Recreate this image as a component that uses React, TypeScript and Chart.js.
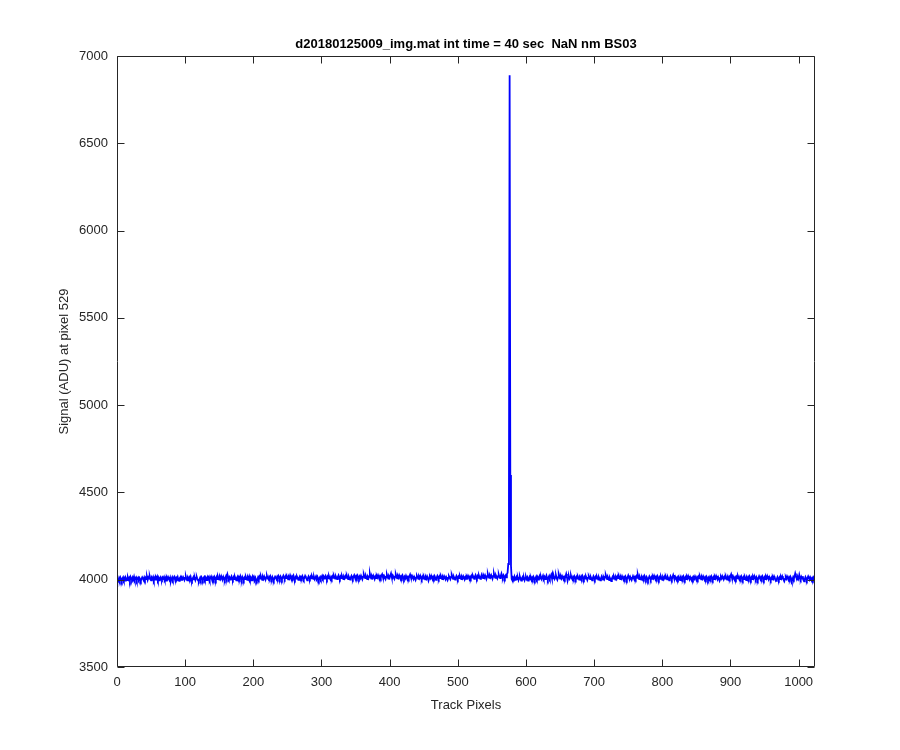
import React, { useEffect, useRef } from "react";
import { Chart, registerables } from "chart.js";

Chart.register(...registerables);

const TITLE = "d20180125009_img.mat int time = 40 sec  NaN nm BS03";
const X_LABEL = "Track Pixels";
const Y_LABEL = "Signal (ADU) at pixel 529";
const X_TICKS = [0, 100, 200, 300, 400, 500, 600, 700, 800, 900, 1000];
const Y_TICKS = [3500, 4000, 4500, 5000, 5500, 6000, 6500, 7000];
const X_MIN = 0;
const X_MAX = 1024;
const Y_MIN = 3500;
const Y_MAX = 7000;

// Signal per track pixel (pixels 1..1024)
const SIGNAL = [
  4002, 3994, 4009, 3997, 4012, 4003, 3992, 4006, 4014, 3999, 4008, 3995, 4011, 4004, 3998, 4013, 4001, 4010, 3996, 4015, 4005, 3999, 4012, 4002, 4017, 4000, 4009, 4014, 3997, 4008, 4013, 4001,
  4010, 4002, 3993, 4005, 4014, 4007, 3998, 4012, 4000, 4011, 4004, 4016, 3999, 4013, 4006, 4018, 4002, 3996, 4012, 4005, 4015, 3998, 4010, 4001, 4014, 4006, 4017, 4000, 4011, 3997, 4009, 4015,
  4004, 3999, 4013, 4007, 4016, 4001, 4009, 3995, 4012, 4003, 4015, 4006, 3998, 4011, 3991, 4005, 4014, 4000, 4010, 4017, 4003, 3996, 4012, 4006, 4016, 4000, 3994, 4008, 4014, 3999, 4011, 4004,
  4015, 4006, 3999, 4011, 4018, 4003, 3996, 4010, 4002, 4014, 4005, 4017, 4000, 3993, 4007, 4015, 4002, 4012, 3998, 4010, 4016, 4004, 3995, 3990, 4003, 4012, 4000, 4014, 4006, 3997, 4010, 4016,
  4002, 4012, 3998, 4008, 4017, 4004, 4014, 3999, 4010, 4018, 4005, 3996, 4012, 4002, 4016, 4007, 3998, 4014, 4003, 4019, 4008, 4000, 4015, 4005, 4020, 4009, 4001, 4016, 4006, 3998, 4013, 4022,
  4011, 4030, 4015, 4004, 4013, 4000, 4010, 4019, 4006, 3999, 4013, 4003, 4016, 4005, 3996, 4011, 4018, 4001, 4013, 4005, 4020, 4008, 3998, 4015, 4006, 3997, 4011, 4003, 4017, 4007, 3999, 4013,
  4004, 4018, 4003, 4013, 3997, 4009, 4019, 4005, 4015, 4001, 4011, 3996, 3991, 4002, 4014, 4004, 4017, 4007, 4021, 4010, 3999, 4015, 4005, 4018, 4008, 4001, 4013, 4022, 4009, 4003, 4016, 4007,
  4019, 4008, 4001, 4015, 4005, 3996, 4009, 4018, 4012, 4003, 4016, 4007, 4021, 4013, 4004, 4018, 4010, 4001, 4014, 4023, 4011, 4004, 4018, 4009, 4021, 4013, 4002, 4016, 4008, 4024, 4012, 4004,
  4018, 4010, 4022, 4008, 4000, 4014, 4006, 4019, 4011, 3999, 4009, 4017, 4004, 4015, 4008, 4021, 4012, 4002, 4011, 4022, 4014, 4006, 3997, 4009, 4019, 4010, 4004, 4017, 4008, 4021, 4012, 4005,
  4016, 4003, 4011, 4020, 4008, 4017, 4006, 3996, 4009, 4016, 4004, 4013, 4022, 4010, 4019, 4006, 4015, 4023, 4012, 4003, 4017, 4008, 4021, 4010, 4002, 4015, 4006, 4019, 4011, 4024, 4014, 4007,
  4020, 4011, 4003, 4016, 4025, 4013, 4005, 4018, 4009, 4022, 4012, 4003, 4016, 4008, 4020, 4011, 4024, 4013, 4004, 4018, 4009, 4000, 4013, 4022, 4013, 4005, 4018, 4026, 4014, 4007, 4020, 4011,
  4023, 4013, 4005, 4018, 4009, 4022, 4012, 4003, 4016, 4030, 4017, 4009, 4022, 4012, 4003, 4016, 4008, 4020, 4034, 4015, 4007, 4020, 4011, 4023, 4013, 4004, 4018, 4009, 4022, 4013, 4025, 4014,
  4006, 4020, 4011, 4023, 4031, 4016, 4008, 4021, 4013, 4004, 4017, 4028, 4014, 4006, 4019, 4011, 4024, 4036, 4017, 4010, 4022, 4014, 4005, 4018, 4029, 4015, 4008, 4021, 4012, 4025, 4014, 4006,
  4019, 4011, 4024, 4013, 4004, 4017, 4008, 4022, 4012, 4003, 4015, 4007, 4020, 4030, 4016, 4008, 4021, 4013, 4004, 4017, 4009, 3999, 4012, 4022, 4013, 4005, 4018, 4009, 4022, 4012, 4003, 4016,
  4007, 4020, 4011, 4002, 4015, 4006, 4019, 4010, 3995, 4008, 4018, 4009, 4022, 4012, 4003, 4016, 4007, 4020, 4011, 3999, 4012, 4022, 4013, 4005, 4018, 4009, 4022, 4013, 4003, 4016, 4008, 4020,
  4011, 4003, 4016, 4008, 3998, 4010, 4020, 4012, 4003, 4016, 4027, 4014, 4005, 4018, 4009, 4000, 4012, 4022, 4013, 4004, 4017, 4009, 4022, 4012, 4003, 4016, 4008, 4020, 4011, 4001, 4014, 4005,
  4018, 4010, 4022, 4013, 4003, 4016, 4008, 4021, 4012, 4024, 4015, 4005, 4018, 4027, 4015, 4007, 4020, 4011, 4024, 4013, 4005, 4018, 4029, 4016, 4009, 4022, 4013, 4025, 4014, 4006, 4019, 4032,
  4017, 4010, 4023, 4014, 4026, 4015, 4007, 4021, 4034, 4018, 4010, 4024, 4015, 4007, 4021, 4030, 4016, 4009, 4022, 4035, 4019, 4011, 4025, 4016, 4008, 4022, 4014, 4032, 4040, 4090, 4450, 6890,
  4600, 4080, 4004, 3996, 4012, 4005, 4017, 3999, 4008, 4016, 4003, 4012, 3998, 4010, 4018, 4005, 3995, 4008, 4015, 4002, 4011, 3997, 4009, 4016, 4004, 4013, 3995, 4006, 4015, 4002, 4011, 3999,
  4012, 4003, 4016, 4006, 3997, 4010, 4018, 4005, 4015, 4001, 4011, 4021, 4007, 4016, 4003, 4012, 4023, 4008, 4017, 4004, 4013, 4024, 4009, 3999, 4012, 4021, 4007, 4016, 4027, 4010, 4031, 4008,
  4018, 4005, 4014, 4025, 4010, 4000, 4013, 4030, 4015, 4006, 4019, 4008, 4021, 4012, 4002, 4015, 4006, 4019, 4033, 4016, 3994, 4011, 4020, 4006, 4015, 4024, 4010, 4002, 4015, 4006, 4019, 4010,
  4002, 4015, 4006, 4019, 4010, 4000, 4013, 4005, 4018, 4008, 4021, 4010, 4002, 4015, 4006, 4019, 4010, 3998, 4011, 4021, 4012, 4003, 4016, 4007, 3997, 4009, 4020, 4011, 4002, 4015, 4006, 4018,
  4009, 4001, 4014, 4005, 3996, 4008, 4019, 4009, 4000, 4013, 4004, 4017, 4026, 4013, 4003, 4016, 4008, 3998, 4011, 4002, 3992, 4007, 4016, 4006, 4019, 4010, 4001, 4014, 4005, 4018, 4009, 4022,
  4012, 4003, 4016, 4007, 4020, 4010, 4001, 4014, 4005, 4018, 4009, 4000, 4013, 4024, 4012, 4003, 4016, 4007, 3998, 4010, 4021, 4011, 4002, 4015, 4006, 4019, 4010, 4029, 4013, 4004, 4017, 4008,
  4000, 4013, 4004, 4017, 4008, 4021, 4011, 4002, 4015, 4006, 3996, 4008, 4019, 4010, 4001, 4014, 4005, 4018, 4009, 4022, 4012, 4003, 4016, 4007, 4020, 4010, 4001, 4014, 4005, 4018, 4008, 3999,
  4012, 4003, 4016, 4007, 4020, 4011, 4002, 4015, 4006, 3997, 4009, 4020, 4011, 4002, 4015, 4027, 4013, 4004, 4017, 4008, 3999, 4012, 4003, 4016, 4007, 3998, 4011, 4002, 4015, 4006, 4019, 4009,
  4000, 4013, 4004, 4017, 4008, 4021, 4011, 4002, 4015, 4006, 3998, 4011, 4002, 4015, 4006, 4019, 4009, 4000, 4013, 4004, 4017, 4008, 4021, 4011, 4002, 4015, 4006, 4019, 4010, 4000, 4013, 4004,
  4017, 4008, 3998, 4011, 4002, 4015, 4006, 4019, 4009, 4000, 4013, 4004, 4017, 4008, 4021, 4011, 4002, 4015, 4006, 3994, 4005, 4016, 4007, 4020, 4011, 4002, 4015, 4006, 4019, 4009, 4000, 4013,
  4004, 4017, 4008, 4021, 4031, 4014, 4005, 4018, 4009, 4000, 4013, 4004, 4017, 4008, 4021, 4011, 4002, 4015, 4006, 4019, 4010, 4000, 4013, 4004, 4017, 4008, 3998, 4011, 4002, 4015, 4006, 4019,
  4009, 4000, 4013, 4004, 4017, 4008, 4021, 4011, 4002, 4015, 4006, 3997, 4010, 4020, 4011, 4002, 4015, 4006, 4019, 4010, 4000, 4013, 4004, 4017, 4008, 4021, 4011, 4002, 4015, 4006, 3998, 4011,
  4002, 4015, 4006, 4019, 4009, 4000, 3993, 4005, 4016, 4007, 3999, 4012, 4003, 4016, 4007, 4020, 4010, 4001, 3992, 4004, 4015, 4006, 4019, 4010, 4000, 4013, 4004, 4017, 4008, 3993, 4002, 4015,
  4006, 4019, 4036, 4022, 4010, 4001, 4014, 4005, 4028, 4012, 4003, 4016, 4007, 4020, 3999, 3990, 4003, 4015, 4006, 3997, 4009, 4019, 4010, 4001, 4014, 4005, 3996, 4009, 4000, 4012, 4003, 4008,
];

const FONT = "'Liberation Sans', Arial, Helvetica, sans-serif";
const AXIS_COLOR = "#262626";
const LINE_COLOR = "#0000ff";

const framePlugin = {
  id: "matlabFrame",
  afterDraw(chart: any) {
    const { ctx, chartArea } = chart;
    const xs = chart.scales.x;
    const ys = chart.scales.y;
    const l = Math.round(chartArea.left) + 0.5;
    const r = Math.round(chartArea.right) - 0.5;
    const t = Math.round(chartArea.top) + 0.5;
    const b = Math.round(chartArea.bottom) - 0.5;
    const tick = 7;
    ctx.save();
    ctx.strokeStyle = AXIS_COLOR;
    ctx.lineWidth = 1;
    ctx.beginPath();
    ctx.rect(l, t, r - l, b - t);
    for (const v of X_TICKS) {
      const px = Math.round(xs.getPixelForValue(v)) + 0.5;
      ctx.moveTo(px, b);
      ctx.lineTo(px, b - tick);
      ctx.moveTo(px, t);
      ctx.lineTo(px, t + tick);
    }
    for (const v of Y_TICKS) {
      const py = Math.round(ys.getPixelForValue(v)) + 0.5;
      ctx.moveTo(l, py);
      ctx.lineTo(l + tick, py);
      ctx.moveTo(r, py);
      ctx.lineTo(r - tick, py);
    }
    ctx.stroke();

    const cx = (chartArea.left + chartArea.right) / 2;
    const cy = (chartArea.top + chartArea.bottom) / 2;
    ctx.fillStyle = "#000000";
    ctx.textAlign = "center";
    ctx.textBaseline = "middle";
    ctx.font = `bold 13px ${FONT}`;
    ctx.fillText(TITLE, cx, 44);
    ctx.fillStyle = AXIS_COLOR;
    ctx.font = `13px ${FONT}`;
    ctx.fillText(X_LABEL, cx, 705);
    ctx.translate(64, cy);
    ctx.rotate(-Math.PI / 2);
    ctx.fillText(Y_LABEL, 0, 0);
    ctx.restore();
  },
};

export default function App() {
  const canvasRef = useRef<HTMLCanvasElement | null>(null);

  useEffect(() => {
    if (!canvasRef.current) return;
    const points = SIGNAL.map((v, i) => ({ x: i + 1, y: v }));
    const chart = new Chart(canvasRef.current, {
      type: "line",
      data: {
        datasets: [
          {
            data: points,
            borderColor: LINE_COLOR,
            borderWidth: 1.8,
            pointRadius: 0,
            tension: 0,
            fill: false,
          },
        ],
      },
      options: {
        animation: false,
        responsive: true,
        maintainAspectRatio: false,
        parsing: false as any,
        layout: { padding: { top: 56, right: 85, left: 0, bottom: 0 } },
        plugins: {
          legend: { display: false },
          title: { display: false },
          tooltip: { enabled: false },
        },
        scales: {
          x: {
            type: "linear",
            min: X_MIN,
            max: X_MAX,
            grid: { display: false, drawTicks: false },
            border: { display: false },
            afterFit: (scale: any) => {
              scale.height = 83;
            },
            afterBuildTicks: (scale: any) => {
              scale.ticks = X_TICKS.map((v) => ({ value: v }));
            },
            ticks: {
              autoSkip: false,
              maxRotation: 0,
              padding: 8,
              color: AXIS_COLOR,
              font: { family: FONT, size: 13 },
              callback: (v: any) => String(v),
            },
          },
          y: {
            type: "linear",
            min: Y_MIN,
            max: Y_MAX,
            grid: { display: false, drawTicks: false },
            border: { display: false },
            afterFit: (scale: any) => {
              scale.width = 117;
            },
            afterBuildTicks: (scale: any) => {
              scale.ticks = Y_TICKS.map((v) => ({ value: v }));
            },
            ticks: {
              autoSkip: false,
              padding: 9,
              color: AXIS_COLOR,
              font: { family: FONT, size: 13 },
              callback: (v: any) => String(v),
            },
          },
        },
      },
      plugins: [framePlugin],
    });
    return () => chart.destroy();
  }, []);

  return (
    <div
      style={{
        position: "fixed",
        left: 0,
        top: 0,
        width: 900,
        height: 750,
        background: "#ffffff",
      }}
    >
      <canvas ref={canvasRef} />
    </div>
  );
}
